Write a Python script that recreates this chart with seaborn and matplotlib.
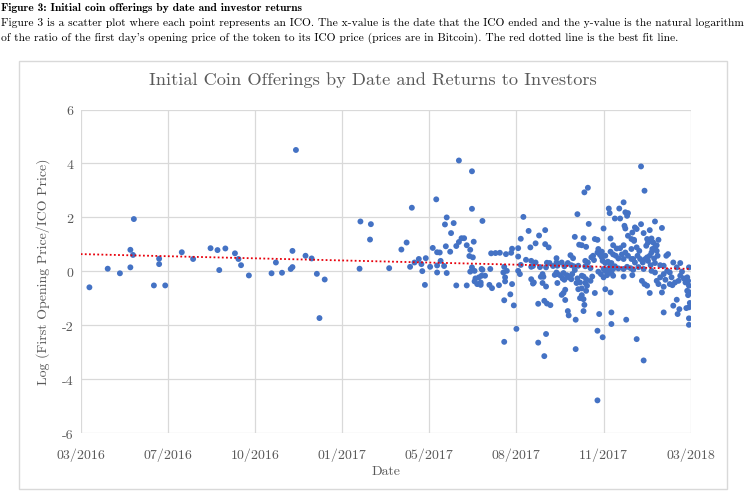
import numpy as np
import pandas as pd
import matplotlib
matplotlib.use('Agg')
import matplotlib.pyplot as plt
import matplotlib.dates as mdates
from matplotlib.patches import Rectangle
import seaborn as sns

# ICO end dates and log(first opening price / ICO price)
ico_end_dates = [
    '2016-04-10', '2016-05-01', '2016-05-15', '2016-05-27', '2016-05-27', '2016-05-30', '2016-05-31',
    '2016-06-23', '2016-06-29', '2016-06-29', '2016-07-06', '2016-07-25',
    '2016-08-07', '2016-08-27', '2016-09-04', '2016-09-06', '2016-09-13', '2016-09-24', '2016-09-28',
    '2016-10-01', '2016-10-10', '2016-11-05', '2016-11-10', '2016-11-17', '2016-11-27', '2016-11-29', '2016-11-29',
    '2016-12-03', '2016-12-14', '2016-12-21', '2016-12-27', '2016-12-30',
    '2017-01-05', '2017-02-14', '2017-02-15', '2017-02-26', '2017-02-27', '2017-03-20',
    '2017-04-03', '2017-04-09', '2017-04-13', '2017-04-15', '2017-04-18', '2017-04-23', '2017-04-26', '2017-04-27', '2017-04-30',
    '2017-05-01', '2017-05-06', '2017-05-09', '2017-05-13', '2017-05-14', '2017-05-14', '2017-05-14', '2017-05-17',
    '2017-05-18', '2017-05-22', '2017-05-23', '2017-05-24', '2017-05-25', '2017-05-25', '2017-05-29', '2017-05-30',
    '2017-06-02', '2017-06-05', '2017-06-05', '2017-06-08', '2017-06-08', '2017-06-11', '2017-06-14', '2017-06-17',
    '2017-06-17', '2017-06-20', '2017-06-21', '2017-06-21', '2017-06-23', '2017-06-23', '2017-06-23', '2017-06-24',
    '2017-06-25', '2017-06-26', '2017-06-26', '2017-06-27', '2017-06-29',
    '2017-07-01', '2017-07-03', '2017-07-03', '2017-07-04', '2017-07-04', '2017-07-05', '2017-07-05', '2017-07-08',
    '2017-07-13', '2017-07-14', '2017-07-15', '2017-07-16', '2017-07-20', '2017-07-24', '2017-07-25', '2017-07-29',
    '2017-07-30', '2017-07-30', '2017-07-30', '2017-07-31', '2017-07-31',
    '2017-08-01', '2017-08-02', '2017-08-06', '2017-08-07', '2017-08-08', '2017-08-08', '2017-08-10', '2017-08-13',
    '2017-08-15', '2017-08-15', '2017-08-15', '2017-08-17', '2017-08-18', '2017-08-18', '2017-08-21', '2017-08-24',
    '2017-08-27', '2017-08-29', '2017-08-30', '2017-08-30', '2017-08-30',
    '2017-09-01', '2017-09-01', '2017-09-02', '2017-09-04', '2017-09-04', '2017-09-07', '2017-09-07', '2017-09-08',
    '2017-09-09', '2017-09-10', '2017-09-12', '2017-09-12', '2017-09-13', '2017-09-14', '2017-09-14', '2017-09-15',
    '2017-09-15', '2017-09-16', '2017-09-16', '2017-09-16', '2017-09-17', '2017-09-17', '2017-09-19', '2017-09-20',
    '2017-09-21', '2017-09-24', '2017-09-26', '2017-09-28', '2017-09-28', '2017-09-28', '2017-09-29', '2017-09-29',
    '2017-09-29',
    '2017-10-02', '2017-10-04', '2017-10-04', '2017-10-05', '2017-10-06', '2017-10-06', '2017-10-07', '2017-10-07',
    '2017-10-08', '2017-10-08', '2017-10-10', '2017-10-11', '2017-10-11', '2017-10-12', '2017-10-12', '2017-10-14',
    '2017-10-14', '2017-10-15', '2017-10-15', '2017-10-16', '2017-10-17', '2017-10-18', '2017-10-19', '2017-10-19',
    '2017-10-20', '2017-10-20', '2017-10-21', '2017-10-22', '2017-10-22', '2017-10-23', '2017-10-23', '2017-10-24',
    '2017-10-25', '2017-10-25', '2017-10-27', '2017-10-27', '2017-10-27', '2017-10-27', '2017-10-29', '2017-10-29',
    '2017-10-29', '2017-10-29', '2017-10-30', '2017-10-30', '2017-10-31', '2017-10-31', '2017-10-31',
    '2017-11-01', '2017-11-01', '2017-11-01', '2017-11-02', '2017-11-03', '2017-11-03', '2017-11-04', '2017-11-06',
    '2017-11-06', '2017-11-07', '2017-11-08', '2017-11-09', '2017-11-10', '2017-11-11', '2017-11-11', '2017-11-14',
    '2017-11-14', '2017-11-14', '2017-11-14', '2017-11-15', '2017-11-15', '2017-11-16', '2017-11-17', '2017-11-18',
    '2017-11-19', '2017-11-19', '2017-11-20', '2017-11-20', '2017-11-21', '2017-11-21', '2017-11-21', '2017-11-23',
    '2017-11-23', '2017-11-23', '2017-11-23', '2017-11-25', '2017-11-26', '2017-11-27', '2017-11-27', '2017-11-27',
    '2017-11-28', '2017-11-29', '2017-11-29', '2017-11-29', '2017-11-29', '2017-11-30', '2017-11-30', '2017-11-30',
    '2017-11-30',
    '2017-12-02', '2017-12-02', '2017-12-02', '2017-12-02', '2017-12-04', '2017-12-04', '2017-12-05', '2017-12-06',
    '2017-12-08', '2017-12-08', '2017-12-09', '2017-12-10', '2017-12-10', '2017-12-12', '2017-12-14', '2017-12-14',
    '2017-12-14', '2017-12-14', '2017-12-14', '2017-12-15', '2017-12-16', '2017-12-16', '2017-12-16', '2017-12-17',
    '2017-12-18', '2017-12-18', '2017-12-19', '2017-12-19', '2017-12-19', '2017-12-22', '2017-12-23', '2017-12-23',
    '2017-12-23', '2017-12-24', '2017-12-24', '2017-12-25', '2017-12-25', '2017-12-26', '2017-12-26', '2017-12-27',
    '2017-12-27', '2017-12-29', '2017-12-29', '2017-12-29', '2017-12-30', '2017-12-31',
    '2018-01-01', '2018-01-02', '2018-01-03', '2018-01-03', '2018-01-04', '2018-01-05', '2018-01-06', '2018-01-06',
    '2018-01-06', '2018-01-07', '2018-01-07', '2018-01-08', '2018-01-09', '2018-01-10', '2018-01-10', '2018-01-10',
    '2018-01-11', '2018-01-11', '2018-01-13', '2018-01-13', '2018-01-13', '2018-01-13', '2018-01-14', '2018-01-15',
    '2018-01-15', '2018-01-15', '2018-01-16', '2018-01-17', '2018-01-18', '2018-01-19', '2018-01-19', '2018-01-19',
    '2018-01-19', '2018-01-21', '2018-01-21', '2018-01-21', '2018-01-22', '2018-01-23', '2018-01-23', '2018-01-25',
    '2018-01-25', '2018-01-27', '2018-01-27', '2018-01-29', '2018-01-29', '2018-01-29', '2018-01-29', '2018-01-31',
    '2018-02-01', '2018-02-02', '2018-02-03', '2018-02-05', '2018-02-05', '2018-02-07', '2018-02-08', '2018-02-09',
    '2018-02-09', '2018-02-11', '2018-02-13', '2018-02-13', '2018-02-14', '2018-02-15', '2018-02-16', '2018-02-17',
    '2018-02-17', '2018-02-19', '2018-02-21', '2018-02-23', '2018-02-24', '2018-02-25', '2018-02-25', '2018-02-26',
    '2018-02-26', '2018-02-27', '2018-02-27', '2018-02-27', '2018-02-27', '2018-02-27', '2018-02-28', '2018-02-28',
]

log_price_ratio = [
    -0.59, 0.10, -0.07, 0.15, 0.80, 0.61, 1.94,
    -0.52, 0.47, 0.27, -0.52, 0.71,
    0.46, 0.86, 0.79, 0.05, 0.85, 0.67, 0.46,
    0.23, -0.15, -0.07, 0.33, -0.05, 0.09, 0.16, 0.76,
    4.50, 0.58, 0.48, -0.09, -1.73,
    -0.30, 0.10, 1.85, 1.18, 1.75, 0.12,
    0.81, 1.07, 0.17, 2.36, 0.33, 0.46, 0.27, 0.01, -0.50,
    0.49, 0.17, 0.87, 2.67, 0.71, 0.22, -0.04, 0.70,
    0.39, 0.20, 1.74, 0.93, 2.00, -0.06, 0.73, 1.42,
    1.79, 0.94, -0.52, 1.09, 4.11, 1.23, 1.23, 0.97,
    -0.52, 0.57, 0.80, -0.01, 3.71, 2.32, 0.15, 0.52,
    1.10, 0.02, -0.37, -0.26, -0.47,
    -0.22, -0.41, -0.50, 0.09, -0.16, 1.87, 0.06, -0.16,
    -0.50, 0.09, 0.67, -0.62, 0.68, -0.51, 0.69, -0.04,
    0.17, -1.07, -2.61, -0.22, -0.37,
    0.64, 0.02, -0.85, 0.69, 0.84, -0.47, -1.26, -2.13,
    0.86, 0.55, 0.02, -0.10, 0.24, 1.21, 2.02, 0.43,
    1.50, 0.89, 0.39, 0.17, -0.29,
    0.20, -0.45, -0.41, 1.04, 0.33, -1.20, -2.64, 1.33,
    0.16, -0.20, -0.10, -0.43, -0.20, -1.09, -3.14, 1.53,
    1.01, 0.15, -0.56, -2.32, 0.32, -1.19, 0.89, 0.31,
    -1.25, 0.20, -0.13, 0.49, 0.33, -0.04, 0.21, -0.10,
    -0.43,
    -0.14, 0.33, -0.87, -0.26, -0.06, -0.80, 0.19, -0.31,
    -0.68, -1.06, -0.14, 0.31, -1.47, -0.22, -1.63, 0.60,
    -0.19, 0.23, -0.29, -0.10, 0.49, 0.19, 1.28, 0.05,
    -1.79, -2.88, -0.43, 2.12, -0.26, 0.21, -0.66, 0.99,
    -0.41, -0.99, 0.97, -0.16, -0.63, -0.88, 1.23, -0.19,
    -1.03, -1.47, 2.93, -1.24, 0.39, 0.19, -0.43,
    0.91, -0.29, -0.72, -0.53, 3.10, 0.33, 1.76, 0.12,
    -0.35, 0.52, -0.19, 0.58, 0.42, 1.20, -0.80, 1.17,
    0.70, -2.20, -4.78, 0.83, -0.01, -1.58, 0.61, -0.10,
    0.73, 0.52, 0.39, -2.44, 1.59, 0.09, -0.22, 0.58,
    0.31, 0.02, -0.66, -0.14, 0.36, 2.33, 0.11, -0.01,
    2.16, 1.22, 0.73, 0.23, -0.78, 0.31, -0.06, -1.52,
    -1.95,
    0.97, 0.63, 0.09, -0.16, 1.96, 0.19, 0.58, 0.85,
    0.48, 0.11, 2.33, 1.96, 0.86, 0.63, 2.56, 0.97,
    0.46, 0.09, -0.19, 1.69, 2.19, 1.59, 0.70, -1.79,
    2.06, 0.17, 2.16, 1.32, 0.58, 0.12, 1.20, 0.83,
    0.46, 1.44, -0.14, 0.46, 0.06, 1.17, 1.13, 1.63,
    0.33, 1.57, 0.89, -2.51, 0.58, 0.16,
    0.76, 0.46, 3.89, 1.75, -0.35, 0.33, 1.42, 0.09,
    -3.30, 2.99, -0.47, 0.46, 0.95, 1.20, 0.52, -0.53,
    1.07, 0.39, 1.53, 1.13, 0.58, -0.80, 0.23, 1.22,
    0.70, 0.02, 0.83, 1.07, 0.48, 1.85, 0.89, 0.31,
    -0.04, 0.97, 0.76, -0.35, 0.58, 1.17, -0.47, 0.23,
    -0.22, 1.61, -0.78, 0.21, -0.10, -0.57, -1.52, -0.31,
    0.58, 0.02, 0.64, -0.04, -0.47, -0.22, -0.51, 0.33,
    -1.27, -0.41, 0.15, -1.05, -1.58, -0.35, -1.40, 0.31,
    -0.16, -0.01, -0.26, -0.41, -1.36, -0.22, -0.72, -0.35,
    -0.88, 0.15, -0.53, -1.33, -1.74, -1.98, -0.78, -1.17,
]

axis_start = '2016-03-31'
axis_end = '2018-03-01'
tick_step_days = 100
y_ticks = [-6, -4, -2, 0, 2, 4, 6]

header_title = 'Figure 3: Initial coin offerings by date and investor returns'
header_lines = [
    'Figure 3 is a scatter plot where each point represents an ICO. The x-value is the date that the ICO ended '
    'and the y-value is the natural logarithm',
    "of the ratio of the first day's opening price of the token to its ICO price (prices are in Bitcoin). "
    'The red dotted line is the best fit line.',
]
chart_title = 'Initial Coin Offerings by Date and Returns to Investors'

assert len(ico_end_dates) == len(log_price_ratio)

df = pd.DataFrame({'date': pd.to_datetime(ico_end_dates), 'log_ratio': log_price_ratio})
df['x'] = mdates.date2num(df['date'])

sns.set_style('white')
plt.rcParams['font.family'] = ['cmr10', 'DejaVu Serif']
plt.rcParams['axes.unicode_minus'] = False

W, H = 747, 502
fig = plt.figure(figsize=(W / 100, H / 100), dpi=100)

# chart area frame
fig.patches.append(Rectangle((19 / W, 1 - 490 / H), (727 - 19) / W, (490 - 62) / H,
                             transform=fig.transFigure, fill=False,
                             edgecolor='#d9d9d9', linewidth=1))

ax = fig.add_axes([80.7 / W, 1 - 434.3 / H, (690.7 - 80.7) / W, (434.3 - 110.5) / H])

x0 = mdates.date2num(pd.Timestamp(axis_start))
x1 = mdates.date2num(pd.Timestamp(axis_end))
ax.set_xlim(x0, x1)
ax.set_ylim(-6, 6)

sns.scatterplot(data=df, x='x', y='log_ratio', ax=ax, color='#4472C4',
                s=18, edgecolor='none', linewidth=0, zorder=3)
sns.regplot(data=df, x='x', y='log_ratio', ax=ax, scatter=False, ci=None, truncate=False,
            line_kws=dict(color='#e8000b', linestyle=(0, (1, 1.3)), linewidth=1.3, zorder=4))

ax.set_xlim(x0, x1)
ax.set_ylim(-6, 6)
ax.set_xticks([x0 + tick_step_days * k for k in range(8)])
ax.xaxis.set_major_formatter(mdates.DateFormatter('%m/%Y'))
ax.set_yticks(y_ticks)
ax.set_xlabel('')
ax.set_ylabel('')

for s in ax.spines.values():
    s.set_visible(False)
ax.grid(True, color='#d9d9d9', linewidth=0.9)
ax.set_axisbelow(True)
ax.tick_params(axis='both', length=0, labelsize=10, labelcolor='#595959')
ax.tick_params(axis='x', pad=10)
ax.tick_params(axis='y', pad=5)

fig.text(373 / W, 1 - 80 / H, chart_title, ha='center', va='center', fontsize=13.2, color='#595959')
fig.text(43 / W, 1 - 272 / H, 'Log (First Opening Price/ICO Price)', rotation=90,
         ha='center', va='center', fontsize=10, color='#595959')
fig.text(385.7 / W, 1 - 472 / H, 'Date', ha='center', va='center', fontsize=10, color='#595959')

fig.text(1 / W, 1 - 8 / H, header_title, ha='left', va='center', fontsize=8.3,
         family=['cmb10', 'DejaVu Serif'], color='black')
for i, line in enumerate(header_lines):
    fig.text(1 / W, 1 - (23 + 15 * i) / H, line, ha='left', va='center', fontsize=8.3, color='black')

fig.savefig('out.png', dpi=100)
